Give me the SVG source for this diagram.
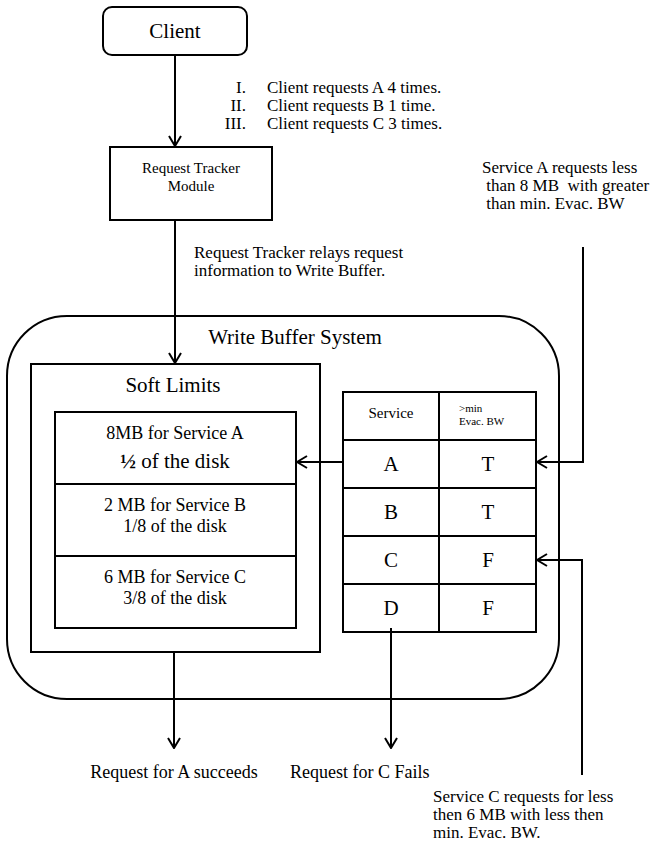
<svg xmlns="http://www.w3.org/2000/svg" width="666" height="849" viewBox="0 0 666 849">
  <style>
    text { font-family: "Liberation Serif", "Times New Roman", serif; fill: #000; }
    .box { fill: #fff; stroke: #000; stroke-width: 2; }
    .wire { fill: none; stroke: #000; stroke-width: 2; }
    .c { text-anchor: middle; }
    .r { text-anchor: end; }
    .f18 { font-size: 18px; }
    .f17 { font-size: 17px; }
    .f15 { font-size: 15px; }
    .f21 { font-size: 21px; }
    .f11 { font-size: 11px; }
  </style>
  <defs>
    <marker id="vee" viewBox="0 0 12 14" refX="11" refY="7" markerWidth="12" markerHeight="14" markerUnits="userSpaceOnUse" orient="auto">
      <path d="M1,1 L11,7 L1,13" fill="none" stroke="#000" stroke-width="2"/>
    </marker>
  </defs>

  <!-- outer system container -->
  <g id="write-buffer-system">
    <rect class="box" x="7" y="316" width="552" height="383" rx="60" ry="60"/>
    <text class="f21 c" x="295" y="344">Write Buffer System</text>
  </g>

  <g id="client">
    <rect class="box" x="103" y="7" width="144" height="48" rx="9" ry="9"/>
    <text class="f21 c" x="175" y="38">Client</text>
  </g>

  <g id="request-tracker">
    <rect class="box" x="110" y="147" width="162" height="73"/>
    <text class="f15 c" x="191" y="173">Request Tracker</text>
    <text class="f15 c" x="191" y="191">Module</text>
  </g>

  <g id="soft-limits">
    <rect class="box" x="31" y="364" width="289" height="288"/>
    <text class="f21 c" x="173" y="392">Soft Limits</text>
    <rect class="box" x="55" y="412" width="241" height="72"/>
    <rect class="box" x="55" y="484" width="241" height="72"/>
    <rect class="box" x="55" y="556" width="241" height="72"/>
    <text class="f18 c" x="175" y="439">8MB for Service A</text>
    <text class="f21 c" x="175" y="468"><tspan font-weight="bold">½</tspan> of the disk</text>
    <text class="f18 c" x="175" y="511">2 MB for Service B</text>
    <text class="f18 c" x="175" y="532">1/8 of the disk</text>
    <text class="f18 c" x="175" y="583">6 MB for Service C</text>
    <text class="f18 c" x="175" y="604">3/8 of the disk</text>
  </g>

  <g id="service-table">
    <rect class="box" x="343" y="392" width="193" height="240"/>
    <path class="wire" d="M439,392 V632 M343,440 H536 M343,488 H536 M343,536 H536 M343,584 H536"/>
    <text class="f15 c" x="391" y="418">Service</text>
    <text class="f11" x="459" y="412">&gt;min</text>
    <text class="f11" x="459" y="425">Evac. BW</text>
    <text class="f21 c" x="391" y="471">A</text>
    <text class="f21 c" x="488" y="471">T</text>
    <text class="f21 c" x="391" y="519">B</text>
    <text class="f21 c" x="488" y="519">T</text>
    <text class="f21 c" x="391" y="567">C</text>
    <text class="f21 c" x="488" y="567">F</text>
    <text class="f21 c" x="391" y="615">D</text>
    <text class="f21 c" x="488" y="615">F</text>
  </g>

  <g id="labels">
    <text class="f17 r" x="246" y="93">I.</text>
    <text class="f17 r" x="246" y="111">II.</text>
    <text class="f17 r" x="246" y="129">III.</text>
    <text class="f17" x="267" y="93">Client requests A 4 times.</text>
    <text class="f17" x="267" y="111">Client requests B 1 time.</text>
    <text class="f17" x="267" y="129">Client requests C 3 times.</text>
    <text class="f17" x="482" y="173" xml:space="preserve">Service A requests less</text>
    <text class="f17" x="482" y="191" xml:space="preserve"> than 8 MB  with greater</text>
    <text class="f17" x="482" y="209" xml:space="preserve"> than min. Evac. BW</text>
    <text class="f17" x="194" y="258">Request Tracker relays request</text>
    <text class="f17" x="194" y="276">information to Write Buffer.</text>
    <text class="f18 c" x="174" y="778">Request for A succeeds</text>
    <text class="f18" x="290" y="778">Request for C Fails</text>
    <text class="f17" x="433" y="802">Service C requests for less</text>
    <text class="f17" x="433" y="820">then 6 MB with less then</text>
    <text class="f17" x="433" y="838">min. Evac. BW.</text>
  </g>

  <g id="connectors">
    <path class="wire" d="M175,55 V146" marker-end="url(#vee)"/>
    <path class="wire" d="M175,220 V363" marker-end="url(#vee)"/>
    <path class="wire" d="M583,247 V462 H537" marker-end="url(#vee)"/>
    <path class="wire" d="M343,462 H297" marker-end="url(#vee)"/>
    <path class="wire" d="M582,775 V560 H537" marker-end="url(#vee)"/>
    <path class="wire" d="M174,652 V748" marker-end="url(#vee)"/>
    <path class="wire" d="M391,628 V748" marker-end="url(#vee)"/>
  </g>
</svg>
